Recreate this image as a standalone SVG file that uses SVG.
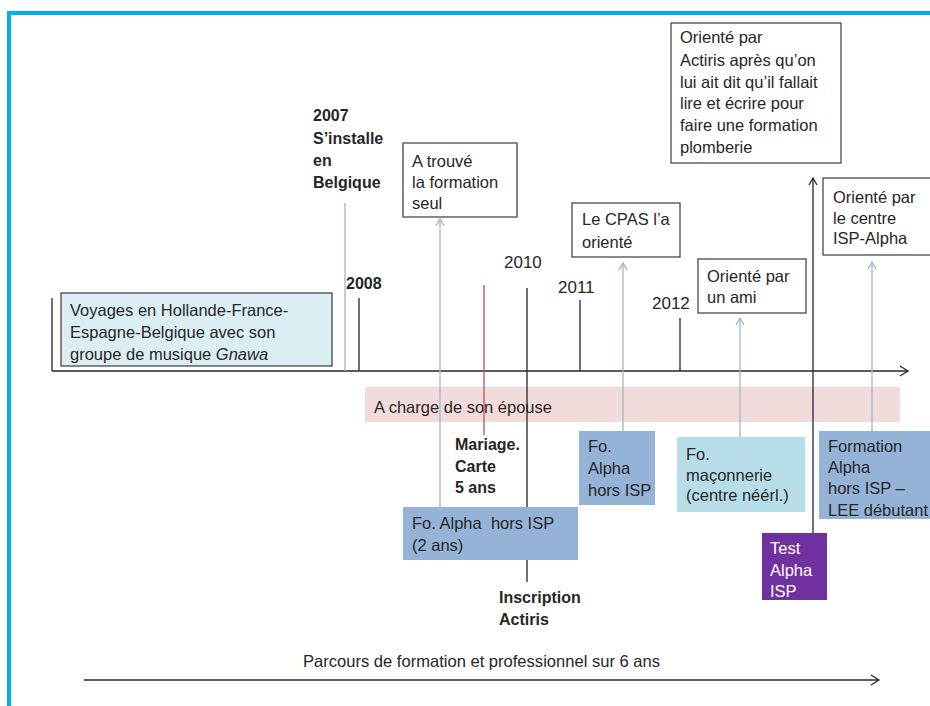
<svg xmlns="http://www.w3.org/2000/svg" width="930" height="706" viewBox="0 0 930 706">
  <style>
    text { font-family: "Liberation Sans", Arial, sans-serif; font-size: 16.5px; fill: #262626; }
    .b { font-weight: bold; font-size: 16px; }
    .yr { font-size: 17px; }
    .box { stroke: #3a3a3a; stroke-width: 1.2; fill: #ffffff; }
    .fill-blue { fill: #95B3D7; stroke: none; }
    .ink { stroke: #262626; stroke-width: 1.3; fill: none; }
    .hint { stroke: #9DB5D1; stroke-width: 1.3; fill: none; }
    .white { fill: #ffffff; }
  </style>
  <defs>
    <marker id="chev" markerWidth="12" markerHeight="12" refX="9" refY="6" orient="auto" markerUnits="userSpaceOnUse">
      <path d="M1,1 L9,6 L1,11" fill="none" stroke="#262626" stroke-width="1.3"/>
    </marker>
    <marker id="chevLight" markerWidth="10" markerHeight="10" refX="8" refY="5" orient="auto" markerUnits="userSpaceOnUse">
      <path d="M1,1 L8,5 L1,9" fill="none" stroke="#9DB5D1" stroke-width="1.3"/>
    </marker>
    <marker id="chevDark" markerWidth="10" markerHeight="10" refX="8" refY="5" orient="auto" markerUnits="userSpaceOnUse">
      <path d="M1,1 L8,5 L1,9" fill="none" stroke="#1F2440" stroke-width="1.3"/>
    </marker>
  </defs>

  <rect width="930" height="706" fill="#ffffff"/>
  <!-- frame -->
  <path d="M9,706 V13 H930" fill="none" stroke="#00B0F0" stroke-width="4"/>

  <!-- period band -->
  <g id="band">
    <rect x="365" y="387" width="535" height="35" fill="#F2DCDB"/>
    <text x="374" y="413">A charge de son épouse</text>
  </g>

  <!-- connectors -->
  <g id="connectors">
    <line class="ink" x1="52" y1="371" x2="908" y2="371" marker-end="url(#chev)"/>
    <line class="ink" x1="52" y1="298" x2="52" y2="371"/>
    <line class="hint" x1="345" y1="203" x2="345" y2="371"/>
    <line class="ink" x1="359" y1="298" x2="359" y2="371"/>
    <line class="hint" x1="440" y1="507" x2="440" y2="219" marker-end="url(#chevLight)"/>
    <line x1="484" y1="285" x2="484" y2="435" stroke="#C0504D" stroke-width="1.3"/>
    <line class="ink" x1="527" y1="288" x2="527" y2="582"/>
    <line class="ink" x1="580" y1="300" x2="580" y2="371"/>
    <line class="hint" x1="623" y1="431" x2="623" y2="263" marker-end="url(#chevLight)"/>
    <line class="ink" x1="680" y1="318" x2="680" y2="371"/>
    <line class="hint" x1="740" y1="437" x2="740" y2="318" marker-end="url(#chevLight)"/>
    <line x1="813" y1="533" x2="813" y2="178" stroke="#1F2440" stroke-width="1.3" marker-end="url(#chevDark)"/>
    <line class="hint" x1="872" y1="431" x2="872" y2="262" marker-end="url(#chevLight)"/>
    <line class="ink" x1="84" y1="680" x2="879" y2="680" marker-end="url(#chev)"/>
  </g>

  <g id="voyages">
    <rect x="61" y="293" width="271" height="73" fill="#DBEEF4" stroke="#3a3a3a" stroke-width="1.2"/>
    <text x="70" y="316">Voyages en Hollande-France-</text>
    <text x="70" y="338">Espagne-Belgique avec son</text>
    <text x="70" y="360">groupe de musique <tspan font-style="italic">Gnawa</tspan></text>
  </g>

  <g id="y2007">
    <text class="b" x="313" y="121">2007</text>
    <text class="b" x="313" y="144">S’installe</text>
    <text class="b" x="313" y="166">en</text>
    <text class="b" x="313" y="188">Belgique</text>
  </g>

  <g id="y2008">
    <text class="b" x="346" y="289">2008</text>
  </g>

  <g id="trouve">
    <rect class="box" x="403" y="143" width="114" height="74"/>
    <text x="412" y="167">A trouvé</text>
    <text x="412" y="188">la formation</text>
    <text x="412" y="209">seul</text>
  </g>

  <g id="y2010">
    <text class="yr" x="504" y="268">2010</text>
  </g>

  <g id="mariage">
    <text class="b" x="455" y="450">Mariage.</text>
    <text class="b" x="455" y="472">Carte</text>
    <text class="b" x="455" y="493">5 ans</text>
  </g>

  <g id="alpha1">
    <rect class="fill-blue" x="403" y="507" width="175" height="53"/>
    <text x="412" y="529" xml:space="preserve">Fo. Alpha  hors ISP</text>
    <text x="412" y="551">(2 ans)</text>
  </g>

  <g id="inscription">
    <text class="b" x="499" y="603">Inscription</text>
    <text class="b" x="499" y="625">Actiris</text>
  </g>

  <g id="y2011">
    <text class="yr" x="558" y="293">2011</text>
  </g>

  <g id="cpas">
    <rect class="box" x="572" y="203" width="108" height="54"/>
    <text x="582" y="225">Le CPAS l’a</text>
    <text x="582" y="248">orienté</text>
  </g>

  <g id="alpha2">
    <rect class="fill-blue" x="579" y="431" width="76" height="74"/>
    <text x="588" y="452">Fo.</text>
    <text x="588" y="474">Alpha</text>
    <text x="588" y="496">hors ISP</text>
  </g>

  <g id="y2012">
    <text class="yr" x="652" y="309">2012</text>
  </g>

  <g id="ami">
    <rect class="box" x="698" y="259" width="108" height="54"/>
    <text x="707" y="282">Orienté par</text>
    <text x="707" y="303">un ami</text>
  </g>

  <g id="maconnerie">
    <rect x="677" y="437" width="128" height="75" fill="#B7DEE8"/>
    <text x="686" y="460">Fo.</text>
    <text x="686" y="481">maçonnerie</text>
    <text x="686" y="501">(centre néérl.)</text>
  </g>

  <g id="actiris">
    <rect class="box" x="671" y="23" width="170" height="140"/>
    <text x="680" y="43">Orienté par</text>
    <text x="680" y="66">Actiris après qu’on</text>
    <text x="680" y="88">lui ait dit qu’il fallait</text>
    <text x="680" y="109">lire et écrire pour</text>
    <text x="680" y="131">faire une formation</text>
    <text x="680" y="153">plomberie</text>
  </g>

  <g id="test">
    <rect x="762" y="533" width="65" height="67" fill="#7030A0"/>
    <text class="white" x="770" y="554">Test</text>
    <text class="white" x="770" y="576">Alpha</text>
    <text class="white" x="770" y="597">ISP</text>
  </g>

  <g id="ispalpha">
    <rect class="box" x="823" y="178" width="110" height="77"/>
    <text x="833" y="203">Orienté par</text>
    <text x="833" y="224">le centre</text>
    <text x="833" y="244">ISP-Alpha</text>
  </g>

  <g id="lee">
    <rect class="fill-blue" x="819" y="431" width="115" height="88"/>
    <text x="828" y="452">Formation</text>
    <text x="828" y="473">Alpha</text>
    <text x="828" y="494">hors ISP –</text>
    <text x="828" y="516">LEE débutant</text>
  </g>

  <g id="parcours">
    <text x="303" y="667" textLength="357" lengthAdjust="spacingAndGlyphs">Parcours de formation et professionnel sur 6 ans</text>
  </g>
</svg>
